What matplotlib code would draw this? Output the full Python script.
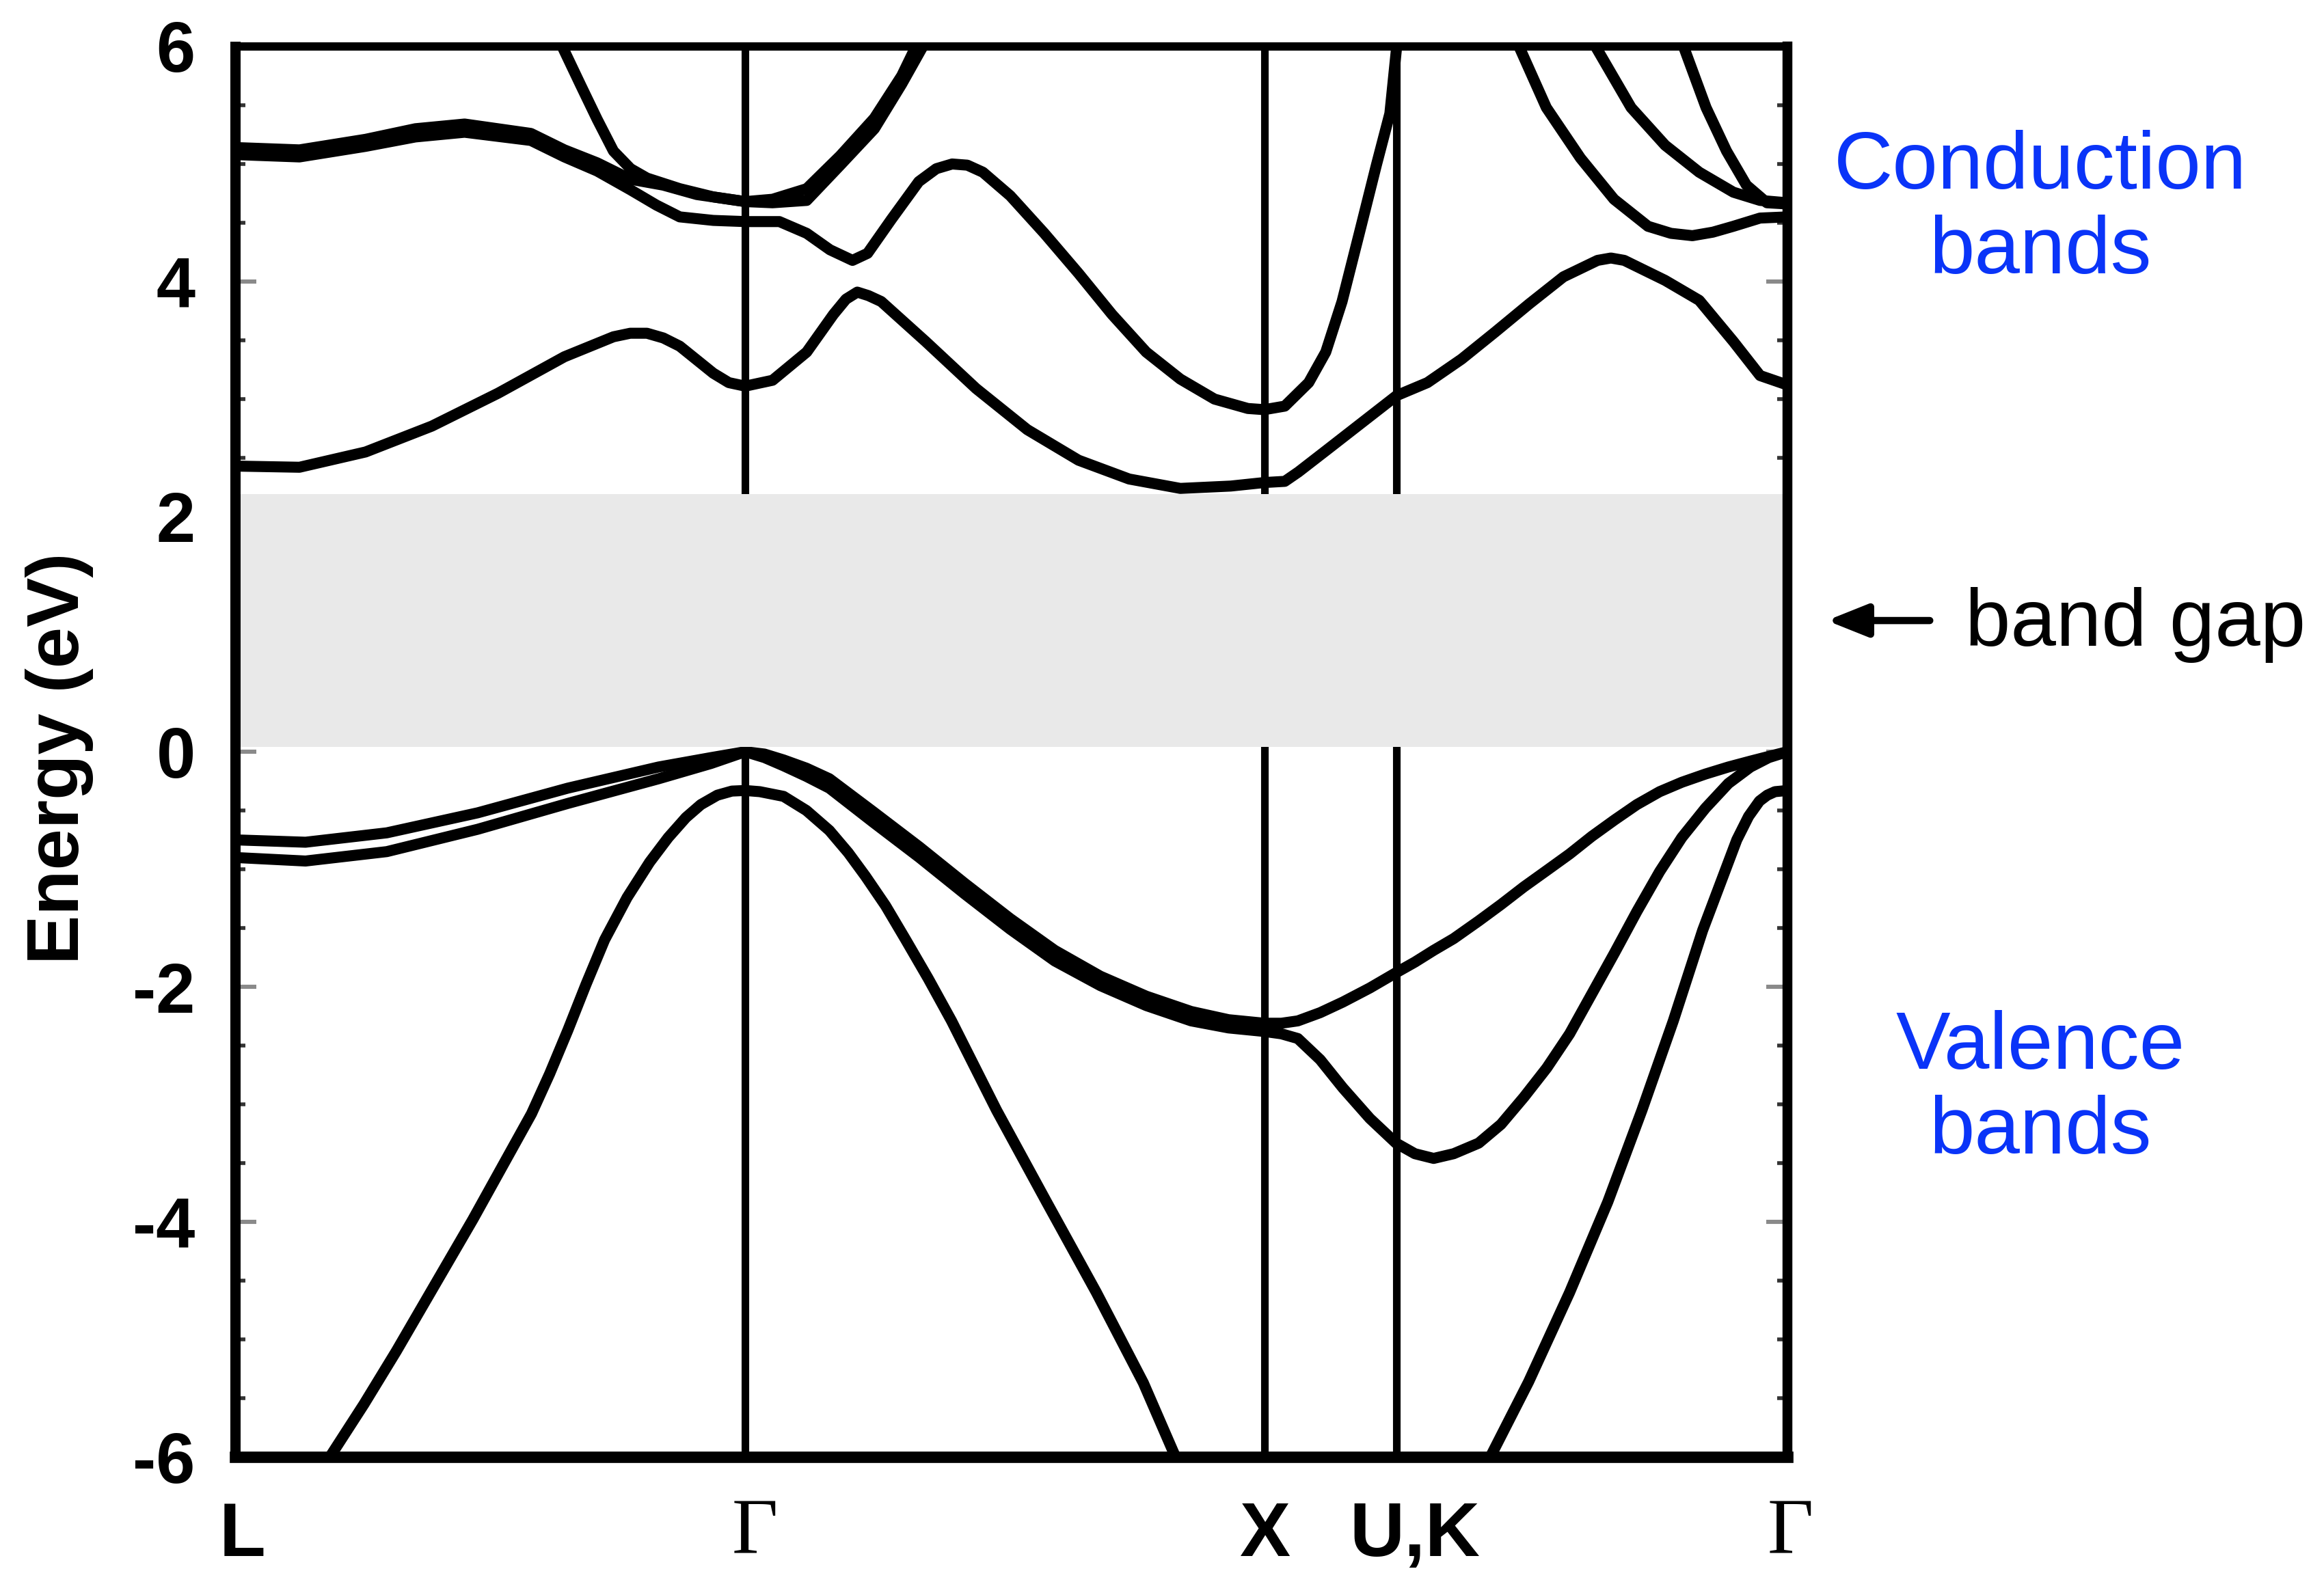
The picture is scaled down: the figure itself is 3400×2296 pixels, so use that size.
import matplotlib
matplotlib.use('Agg')
import matplotlib.pyplot as plt
from matplotlib.patches import FancyArrowPatch
from matplotlib.ticker import MultipleLocator

plt.rcParams['font.family'] = ['Liberation Sans', 'DejaVu Sans']
plt.rcParams['axes.unicode_minus'] = False

# k path (fraction of path length)
sym_k = [0.0, 0.3286, 0.663, 0.7483, 1.0]
sym_labels = ['L', 'Γ', 'X', 'U,K', 'Γ']

# valence bands
lh1_k = [0.0, 0.0453, 0.0977, 0.1562, 0.2143, 0.2728, 0.3066, 0.3286]
lh1_e = [-0.75, -0.77, -0.69, -0.52, -0.31, -0.13, -0.05, 0.0]
lh2_e = [-0.90, -0.93, -0.85, -0.66, -0.44, -0.23, -0.10, 0.0]

hh_k = [0.3286, 0.3410, 0.3533, 0.3680, 0.3828, 0.4110, 0.4408, 0.4700, 0.4993,
        0.5280, 0.5574, 0.5870, 0.6159, 0.6400, 0.663, 0.6740, 0.6846, 0.6990,
        0.7136, 0.7310, 0.7479, 0.7600, 0.7721, 0.7850, 0.8011, 0.8155, 0.8302,
        0.8450, 0.8597, 0.8740, 0.8887, 0.9030, 0.9177, 0.9320, 0.9472, 0.9620,
        0.9762, 0.9880, 1.0]
hh1_e = [0.0, -0.02, -0.07, -0.14, -0.23, -0.51, -0.81, -1.12, -1.42,
         -1.69, -1.91, -2.08, -2.21, -2.28, -2.31, -2.31, -2.29, -2.22,
         -2.13, -2.01, -1.88, -1.79, -1.69, -1.59, -1.44, -1.30, -1.15,
         -1.01, -0.87, -0.72, -0.58, -0.45, -0.34, -0.26, -0.19, -0.13,
         -0.08, -0.04, 0.0]
hh2_e = [0.0, -0.05, -0.12, -0.21, -0.31, -0.60, -0.90, -1.21, -1.51,
         -1.78, -1.99, -2.16, -2.29, -2.35, -2.38, -2.40, -2.44, -2.62,
         -2.86, -3.12, -3.33, -3.42, -3.46, -3.42, -3.33, -3.17, -2.94,
         -2.69, -2.40, -2.06, -1.71, -1.36, -1.02, -0.73, -0.48, -0.27,
         -0.13, -0.05, 0.0]

so1_k = [0.061, 0.083, 0.1038, 0.128, 0.1531, 0.172, 0.1909, 0.2026, 0.2143,
         0.226, 0.238, 0.2525, 0.267, 0.279, 0.2904, 0.3000, 0.3106, 0.3200,
         0.3286, 0.3380, 0.3533, 0.3680, 0.3828, 0.3950, 0.4061, 0.4190, 0.4320,
         0.4465, 0.4615, 0.4905, 0.5227, 0.5548, 0.5851, 0.6058]
so1_e = [-6.0, -5.55, -5.10, -4.55, -3.98, -3.53, -3.08, -2.74, -2.37,
         -1.98, -1.60, -1.24, -0.94, -0.73, -0.56, -0.45, -0.37, -0.335,
         -0.33, -0.34, -0.38, -0.50, -0.67, -0.86, -1.06, -1.31, -1.60,
         -1.93, -2.29, -3.05, -3.83, -4.60, -5.37, -6.0]

so2_k = [0.8086, 0.8333, 0.8597, 0.8843, 0.9063, 0.9265, 0.9454, 0.9674, 0.9750,
         0.9820, 0.9870, 0.9920, 1.0]
so2_e = [-6.0, -5.36, -4.60, -3.83, -3.05, -2.29, -1.52, -0.75, -0.55,
         -0.42, -0.37, -0.34, -0.33]

# conduction bands
c1_k = [0.0, 0.0414, 0.0840, 0.1267, 0.1694, 0.2121, 0.2437, 0.2545, 0.2653,
        0.2758, 0.2864, 0.3080, 0.3180, 0.3286, 0.3462, 0.3682, 0.3854, 0.3935,
        0.4008, 0.4080, 0.4162, 0.4448, 0.4773, 0.5103, 0.5433, 0.5759, 0.6089,
        0.6414, 0.663, 0.6762, 0.6850, 0.7026, 0.7483, 0.7681, 0.7901, 0.8117,
        0.8337, 0.8557, 0.8777, 0.8863, 0.8949, 0.9212, 0.9432, 0.9652, 0.9824,
        1.0]
c1_e = [2.43, 2.42, 2.55, 2.77, 3.05, 3.36, 3.53, 3.56, 3.56,
        3.52, 3.45, 3.22, 3.14, 3.11, 3.16, 3.40, 3.72, 3.85,
        3.91, 3.88, 3.83, 3.49, 3.09, 2.74, 2.48, 2.32, 2.24,
        2.26, 2.29, 2.30, 2.38, 2.56, 3.03, 3.14, 3.34, 3.57,
        3.81, 4.04, 4.18, 4.20, 4.18, 4.01, 3.84, 3.49, 3.20,
        3.12]

c2_k = [0.0, 0.0414, 0.084, 0.1161, 0.1478, 0.1905, 0.2121, 0.2332, 0.2547,
        0.2714, 0.2864, 0.3080, 0.3286, 0.3506, 0.3682, 0.3832, 0.3977, 0.4074,
        0.4228, 0.4404, 0.4517, 0.4619, 0.4717, 0.4817, 0.4993, 0.5213, 0.5433,
        0.5649, 0.5869, 0.6089, 0.6309, 0.6524, 0.663, 0.6762, 0.6916, 0.7026,
        0.7131, 0.7242, 0.7352, 0.7439, 0.7483]
c2_e = [5.08, 5.06, 5.15, 5.23, 5.27, 5.20, 5.06, 4.94, 4.78,
        4.65, 4.55, 4.52, 4.51, 4.51, 4.41, 4.27, 4.18, 4.24,
        4.53, 4.85, 4.96, 5.00, 4.99, 4.93, 4.73, 4.41, 4.07,
        3.72, 3.40, 3.17, 3.00, 2.92, 2.91, 2.94, 3.14, 3.40,
        3.83, 4.41, 4.99, 5.43, 6.0]

c3_k = [0.0, 0.0414, 0.084, 0.1161, 0.1478, 0.1905, 0.2121, 0.2332, 0.2547,
        0.2758, 0.2974, 0.3286, 0.3462, 0.3682, 0.3898, 0.4118, 0.4294, 0.4386]
c3_e = [5.14, 5.12, 5.21, 5.30, 5.34, 5.26, 5.12, 5.01, 4.87,
        4.82, 4.74, 4.68, 4.70, 4.79, 5.07, 5.39, 5.75, 6.0]

c4_k = [0.2107, 0.2226, 0.2332, 0.2437, 0.2547, 0.2653, 0.2864, 0.3080, 0.3286,
        0.3462, 0.3682, 0.3898, 0.4118, 0.4294, 0.4430]
c4_e = [6.0, 5.67, 5.38, 5.11, 4.96, 4.88, 4.79, 4.72, 4.68,
        4.67, 4.69, 4.99, 5.30, 5.68, 6.0]

c5_k = [0.8271, 0.8447, 0.8667, 0.8883, 0.9102, 0.9250, 0.9388, 0.9520, 0.9652,
        0.9824, 1.0]
c5_e = [6.0, 5.48, 5.05, 4.70, 4.47, 4.41, 4.39, 4.42, 4.47, 4.54, 4.55]

c6_k = [0.8764, 0.8993, 0.9212, 0.9432, 0.9652, 0.9824, 1.0]
c6_e = [6.0, 5.48, 5.16, 4.93, 4.76, 4.69, 4.67]

c7_k = [0.9331, 0.9476, 0.9608, 0.9736, 0.9868, 1.0]
c7_e = [6.0, 5.48, 5.11, 4.82, 4.67, 4.66]

gap_lo, gap_hi = 0.04, 2.19

bands = [(lh1_k, lh1_e), (lh1_k, lh2_e), (hh_k, hh1_e), (hh_k, hh2_e),
         (so1_k, so1_e), (so2_k, so2_e), (c1_k, c1_e), (c2_k, c2_e),
         (c3_k, c3_e), (c4_k, c4_e), (c5_k, c5_e), (c6_k, c6_e), (c7_k, c7_e)]

fig = plt.figure(figsize=(17, 11.48), dpi=200)
ax = fig.add_axes([0.1012, 0.0714, 0.6679, 0.8990])

for k, e in bands:
    ax.plot(k, e, color='black', lw=5.8, solid_joinstyle='round',
            solid_capstyle='round', zorder=2)

for k in sym_k[1:-1]:
    ax.axvline(k, color='black', lw=4.0, zorder=2)

# band gap shading
ax.axhspan(gap_lo, gap_hi, color='#e9e9e9', lw=0, zorder=2.3)

ax.set_xlim(0, 1)
ax.set_ylim(-6, 6)

for side, w in [('left', 5.4), ('right', 5.2), ('top', 4.4), ('bottom', 6.0)]:
    ax.spines[side].set_linewidth(w)
    ax.spines[side].set_zorder(3)

ax.yaxis.set_major_locator(MultipleLocator(2))
ax.yaxis.set_minor_locator(MultipleLocator(0.5))
ax.tick_params(axis='y', which='major', direction='in', left=True, right=True,
               length=11, width=2.2, color='#8a8a8a', pad=21,
               labelsize=37)
ax.tick_params(axis='y', which='minor', direction='in', left=True, right=True,
               length=5.5, width=2.0, color='#333333')
for lab in ax.get_yticklabels():
    lab.set_fontweight('bold')

# k-point labels below the axis
ax.set_xticks([])
label_shift = [0.0044, 0.006, 0.0, 0.0117, 0.002]
for k, s, name in zip(sym_k, label_shift, sym_labels):
    if name == 'Γ':
        ax.text(k + s, -0.055, name, transform=ax.get_xaxis_transform(),
                ha='center', va='center', fontsize=42,
                family=['Liberation Serif', 'DejaVu Serif'])
    else:
        ax.text(k + s, -0.056, name, transform=ax.get_xaxis_transform(),
                ha='center', va='center', fontsize=40, fontweight='bold')

fig.text(0.0256, 0.5166, 'Energy (eV)', rotation=90, ha='center', va='center',
         fontsize=39, fontweight='bold')

blue = '#0a34f8'
fig.text(0.878, 0.866, 'Conduction\nbands', ha='center', va='center',
         fontsize=43, color=blue, linespacing=1.15)
fig.text(0.878, 0.305, 'Valence\nbands', ha='center', va='center',
         fontsize=43, color=blue, linespacing=1.15)
fig.text(0.8456, 0.6015, 'band gap', ha='left', va='center', fontsize=43,
         color='black')
fig.patches.append(FancyArrowPatch(
    (0.832, 0.6045), (0.7844, 0.6045), transform=fig.transFigure,
    arrowstyle='-|>,head_length=0.9,head_width=0.36', mutation_scale=20,
    color='black', lw=3.8))

fig.savefig('out.png', dpi=200)
